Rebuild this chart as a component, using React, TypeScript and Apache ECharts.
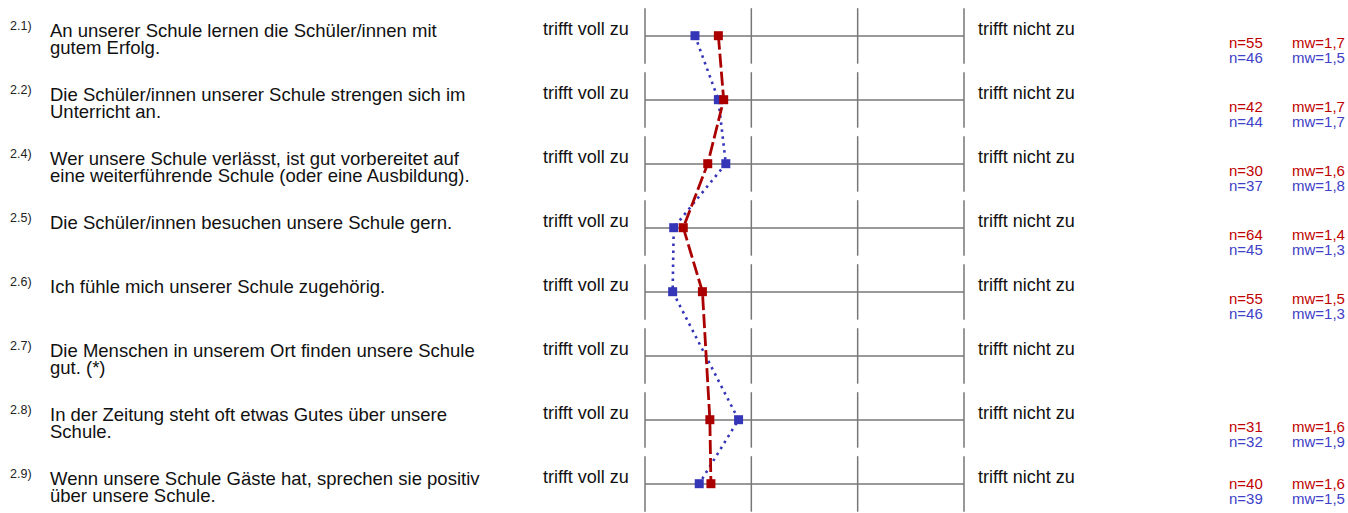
import React, { useEffect, useRef } from "react";
import * as echarts from "echarts";

const rowIds = ["2.1)", "2.2)", "2.4)", "2.5)", "2.6)", "2.7)", "2.8)", "2.9)"];
const questions = [
  "An unserer Schule lernen die Schüler/innen mit\ngutem Erfolg.",
  "Die Schüler/innen unserer Schule strengen sich im\nUnterricht an.",
  "Wer unsere Schule verlässt, ist gut vorbereitet auf\neine weiterführende Schule (oder eine Ausbildung).",
  "Die Schüler/innen besuchen unsere Schule gern.",
  "Ich fühle mich unserer Schule zugehörig.",
  "Die Menschen in unserem Ort finden unsere Schule\ngut. (*)",
  "In der Zeitung steht oft etwas Gutes über unsere\nSchule.",
  "Wenn unsere Schule Gäste hat, sprechen sie positiv\nüber unsere Schule.",
];
const leftPole = "trifft voll zu";
const rightPole = "trifft nicht zu";
const scaleTicks = [1, 2, 3, 4];
const redMeans = [1.69, 1.74, 1.59, 1.36, 1.54, null, 1.61, 1.62];
const blueMeans = [1.47, 1.69, 1.76, 1.27, 1.26, null, 1.88, 1.51];
const redN = [55, 42, 30, 64, 55, null, 31, 40];
const blueN = [46, 44, 37, 45, 46, null, 32, 39];

const RED = "#aa0000";
const BLUE = "#3535b8";
const RED_TXT = "#c00000";
const BLUE_TXT = "#4040c8";
const GRID = "#777777";
const FONT = "'Liberation Sans', Arial, sans-serif";

function fmt(v: number) {
  return "mw=" + v.toFixed(1).replace(".", ",");
}

export default function App() {
  const ref = useRef<HTMLDivElement>(null);
  useEffect(() => {
    if (!ref.current) return;
    const chart = echarts.init(ref.current, null, { renderer: "svg" });
    const segData: number[][] = [];
    rowIds.forEach((_, i) => scaleTicks.forEach((t) => segData.push([t, i])));
    const toData = (arr: (number | null)[]) =>
      arr.map((v, i) => (v == null ? null : [v, i])).filter((d) => d != null);

    chart.setOption({
      animation: false,
      grid: { left: 645, right: 384, top: 35.7, bottom: 29.3 },
      xAxis: {
        type: "value",
        min: 1,
        max: 4,
        interval: 1,
        show: false,
        splitLine: { show: false },
      },
      yAxis: {
        type: "value",
        min: 0,
        max: 7,
        interval: 1,
        inverse: true,
        axisLine: { show: false },
        axisTick: { show: false },
        axisLabel: { show: false },
        splitLine: { show: true, lineStyle: { color: GRID, width: 1.5 } },
      },
      series: [
        {
          type: "custom",
          silent: true,
          z: 1,
          data: segData,
          renderItem: (params: any, api: any) => {
            const p = api.coord([api.value(0), api.value(1)]);
            return {
              type: "line",
              shape: { x1: p[0], y1: p[1] - 27.5, x2: p[0], y2: p[1] + 28 },
              style: { stroke: GRID, lineWidth: 1.5 },
            };
          },
        },
        {
          type: "line",
          z: 3,
          data: toData(blueMeans),
          symbol: "rect",
          symbolSize: 9,
          itemStyle: { color: BLUE },
          lineStyle: { color: BLUE, width: 2.6, type: [2.5, 4.5] },
        },
        {
          type: "line",
          z: 4,
          data: toData(redMeans),
          symbol: "rect",
          symbolSize: 9,
          itemStyle: { color: RED },
          lineStyle: { color: RED, width: 2.8, type: [14, 4] },
        },
      ],
    });

    const graphics: any[] = [];
    const txt = (x: number, y: number, text: string, size: number, fill: string, va = "middle", lh?: number) => ({
      type: "text",
      x,
      y,
      silent: true,
      style: {
        text,
        fill,
        fontSize: size,
        fontFamily: FONT,
        textAlign: "left",
        align: "left",
        textVerticalAlign: va,
        verticalAlign: va,
        lineHeight: lh || size * 1.2,
      },
    });
    rowIds.forEach((id, i) => {
      const y = chart.convertToPixel({ yAxisIndex: 0 } as any, i) as number;
      graphics.push(txt(10, y - 10, id, 12.5, "#222"));
      graphics.push(txt(50, y - 14, questions[i], 18.5, "#111", "top", 17));
      graphics.push(txt(543, y - 6.5, leftPole, 18, "#111"));
      graphics.push(txt(978, y - 6.5, rightPole, 18, "#111"));
      const rn = redN[i];
      const bn = blueN[i];
      const rm = redMeans[i];
      const bm = blueMeans[i];
      // keep the two stat lines inside the picture
      const shift = Math.min(0, 498 - (y + 22));
      if (rn != null && rm != null) {
        graphics.push(txt(1229, y + 7 + shift, "n=" + rn, 15, RED_TXT));
        graphics.push(txt(1292, y + 7 + shift, fmt(rm), 15, RED_TXT));
      }
      if (bn != null && bm != null) {
        graphics.push(txt(1229, y + 22 + shift, "n=" + bn, 15, BLUE_TXT));
        graphics.push(txt(1292, y + 22 + shift, fmt(bm), 15, BLUE_TXT));
      }
    });
    chart.setOption({ graphic: graphics });
    return () => chart.dispose();
  }, []);
  return (
    <div
      ref={ref}
      style={{ position: "fixed", left: 0, top: 0, width: 1348, height: 513, background: "#fff" }}
    />
  );
}
